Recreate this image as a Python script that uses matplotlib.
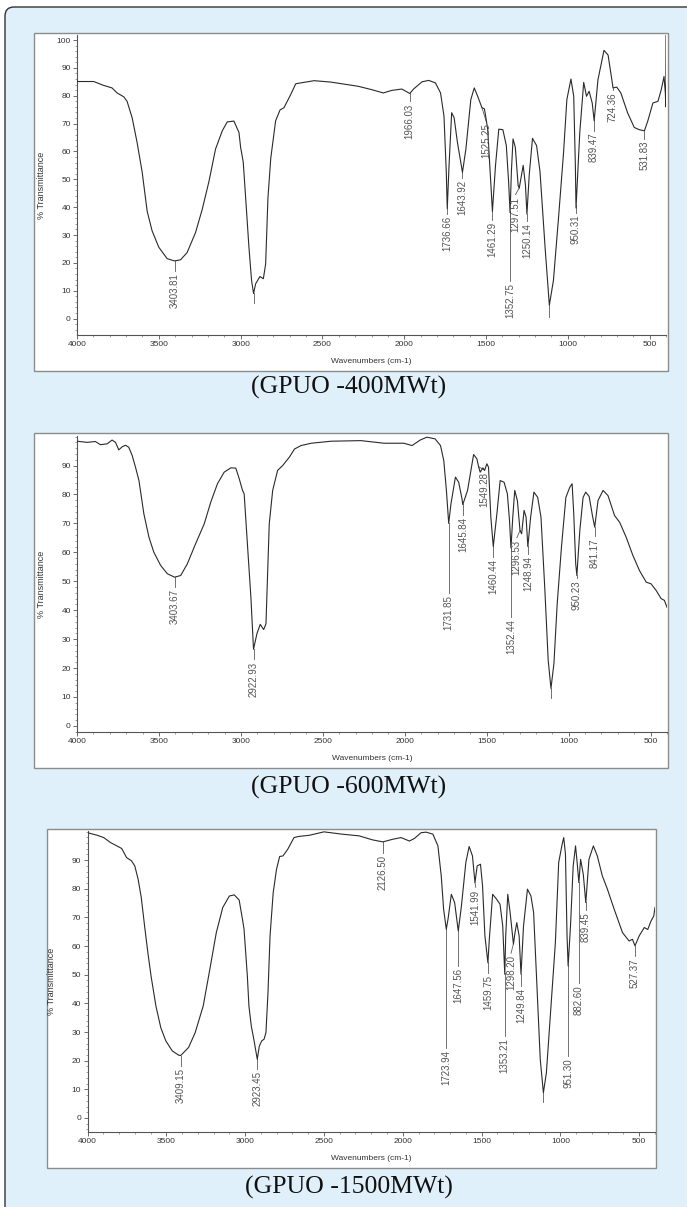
import matplotlib
matplotlib.use('Agg')
import matplotlib.pyplot as plt
import numpy as np
from matplotlib.patches import FancyBboxPatch, Rectangle
from matplotlib.transforms import IdentityTransform
from matplotlib.ticker import MultipleLocator, FixedLocator

W, H = 687, 1207

# ---- GPUO -400MWt ----
wn_400 = [4000, 3898, 3837, 3786, 3755, 3714, 3694, 3663, 3633, 3602,
          3571, 3541, 3500, 3449, 3404, 3367, 3327, 3276, 3235, 3194,
          3153, 3112, 3082, 3041, 3010, 3000, 2984, 2969, 2949, 2933,
          2921, 2908, 2882, 2861, 2847, 2833, 2816, 2786, 2759, 2735,
          2694, 2663, 2612, 2551, 2449, 2282, 2200, 2128, 2077, 2015,
          1966, 1943, 1891, 1850, 1809, 1778, 1757, 1743, 1737, 1726,
          1710, 1695, 1675, 1644, 1623, 1593, 1572, 1551, 1525, 1510,
          1504, 1490, 1469, 1461, 1442, 1422, 1397, 1376, 1362, 1353,
          1345, 1335, 1321, 1304, 1297, 1273, 1259, 1250, 1236, 1216,
          1191, 1170, 1139, 1113, 1088, 1057, 1026, 1006, 981, 964,
          954, 950, 927, 903, 886, 870, 851, 839, 816, 779,
          754, 734, 724, 701, 676, 635, 594, 563, 532, 511,
          480, 449, 429, 412, 404, 401, 400]
t_400 = [85.1, 85.1, 83.7, 82.8, 81.0, 79.6, 78.0, 72.1, 63.3, 52.7,
         38.5, 31.5, 25.6, 21.5, 20.7, 21.1, 23.7, 30.8, 39.1, 49.1,
         60.9, 67.4, 70.6, 70.9, 66.8, 61.5, 56.2, 43.2, 25.5, 13.7,
         9.0, 12.5, 15.1, 14.3, 19.6, 43.2, 57.4, 71.0, 74.9, 75.7,
         80.4, 84.3, 84.8, 85.4, 84.9, 83.4, 82.2, 81.0, 81.9, 82.4,
         80.8, 82.4, 85.0, 85.5, 84.6, 81.0, 72.7, 52.7, 39.5, 55.0,
         73.9, 72.1, 63.3, 52.5, 60.9, 78.6, 82.8, 79.8, 75.7, 75.3,
         73.3, 68.0, 46.8, 38.5, 55.0, 68.0, 67.8, 62.1, 49.1, 38.0,
         52.7, 64.5, 61.5, 47.9, 46.8, 55.0, 47.9, 37.5, 51.5, 64.7,
         62.1, 52.7, 25.5, 4.8, 13.7, 36.1, 59.7, 78.6, 86.0, 79.8,
         55.0, 39.7, 66.8, 84.8, 79.8, 81.6, 77.4, 71.0, 85.7, 96.3,
         94.6, 86.9, 82.8, 83.1, 81.0, 73.9, 68.6, 67.8, 67.4, 71.0,
         77.4, 78.0, 82.2, 86.9, 81.0, 76.0, 101.8]
peaks_400 = [3403.81, 1966.03, 1736.66, 1643.92, 1525.25, 1461.29, 1352.75,
             1297.51, 1250.14, 950.31, 839.47, 724.36, 531.83]
bare_400 = [2921, 1113]

# ---- GPUO -600MWt ----
wn_600 = [4000, 3939, 3888, 3857, 3816, 3786, 3765, 3745, 3724, 3704,
          3684, 3663, 3643, 3622, 3592, 3561, 3531, 3490, 3449, 3404,
          3367, 3327, 3276, 3224, 3184, 3143, 3102, 3061, 3031, 3010,
          2990, 2980, 2959, 2939, 2923, 2902, 2882, 2861, 2847, 2827,
          2806, 2776, 2745, 2704, 2673, 2633, 2571, 2449, 2267, 2127,
          2006, 1956, 1906, 1865, 1815, 1782, 1762, 1746, 1732, 1718,
          1691, 1671, 1651, 1646, 1617, 1580, 1560, 1549, 1540, 1523,
          1513, 1499, 1489, 1475, 1460, 1438, 1418, 1394, 1374, 1361,
          1352, 1341, 1329, 1313, 1297, 1287, 1272, 1260, 1249, 1232,
          1212, 1189, 1169, 1145, 1125, 1108, 1090, 1070, 1044, 1017,
          993, 979, 969, 957, 950, 932, 912, 896, 875, 855,
          841, 821, 790, 760, 720, 689, 649, 608, 568, 527,
          497, 466, 436, 416, 400]
t_600 = [98.4, 98.0, 98.3, 97.2, 97.5, 98.8, 98.0, 95.4, 96.5, 97.0,
         96.3, 93.4, 89.4, 84.8, 73.3, 65.2, 60.0, 55.5, 52.6, 51.4,
         52.0, 56.0, 63.0, 69.8, 77.3, 83.7, 87.7, 89.2, 89.1, 85.4,
         81.4, 80.2, 61.8, 44.5, 26.5, 31.9, 35.1, 33.3, 35.3, 69.8,
         81.4, 88.3, 90.0, 92.9, 95.7, 96.9, 97.7, 98.4, 98.6, 97.7,
         97.7, 96.9, 98.8, 99.8, 99.2, 96.9, 91.7, 81.4, 70.0, 76.8,
         86.0, 84.2, 78.5, 76.5, 81.4, 93.8, 92.3, 89.5, 87.7, 89.2,
         88.3, 90.6, 89.4, 72.2, 62.0, 73.3, 84.8, 84.2, 80.2, 71.0,
         61.5, 72.2, 81.4, 77.9, 67.6, 66.4, 74.5, 72.2, 62.0, 72.2,
         80.8, 79.0, 72.2, 46.8, 22.7, 13.0, 21.5, 42.2, 61.8, 79.0,
         82.5, 83.7, 73.3, 56.0, 52.0, 67.5, 79.0, 80.8, 79.3, 72.7,
         68.7, 77.9, 81.4, 79.6, 72.7, 70.4, 65.2, 58.9, 53.7, 49.7,
         49.1, 46.8, 44.0, 43.4, 41.0]
peaks_600 = [3403.67, 2922.93, 1731.85, 1645.84, 1549.28, 1460.44, 1352.44,
             1296.53, 1248.94, 950.23, 841.17]
bare_600 = [1108]

# ---- GPUO -1500MWt ----
wn_1500 = [4000, 3938, 3897, 3855, 3814, 3783, 3752, 3721, 3700, 3679,
           3659, 3638, 3617, 3597, 3566, 3535, 3503, 3462, 3421, 3409,
           3359, 3317, 3266, 3224, 3183, 3142, 3100, 3069, 3038, 3017,
           3007, 2986, 2976, 2961, 2945, 2923, 2910, 2895, 2880, 2868,
           2855, 2842, 2822, 2801, 2781, 2760, 2730, 2690, 2660, 2593,
           2500, 2386, 2277, 2192, 2126, 2065, 2011, 1958, 1926, 1884,
           1852, 1809, 1777, 1756, 1741, 1724, 1713, 1692, 1671, 1648,
           1628, 1600, 1579, 1558, 1542, 1528, 1507, 1494, 1479, 1460,
           1451, 1430, 1405, 1383, 1366, 1353, 1347, 1334, 1319, 1298,
           1288, 1277, 1262, 1250, 1234, 1209, 1187, 1170, 1149, 1128,
           1108, 1089, 1060, 1032, 1011, 989, 979, 968, 958, 951,
           936, 919, 904, 894, 883, 872, 855, 839, 819, 791,
           766, 734, 702, 659, 606, 564, 543, 527, 500, 468,
           446, 425, 408, 400]
t_1500 = [99.6, 98.7, 97.9, 96.2, 95.0, 94.1, 90.9, 89.8, 88.0, 83.4,
          77.0, 67.1, 57.7, 49.6, 39.1, 31.5, 26.9, 23.4, 21.9, 21.8,
          24.6, 29.8, 39.1, 51.9, 64.7, 73.5, 77.5, 77.9, 76.1, 69.4,
          65.9, 49.6, 39.1, 32.1, 27.5, 20.5, 25.1, 26.9, 27.5, 29.8,
          43.8, 63.6, 78.7, 86.8, 91.3, 91.5, 93.8, 97.9, 98.3, 98.7,
          99.9, 99.1, 98.5, 97.1, 96.4, 97.3, 97.9, 96.7, 97.6, 99.6,
          99.8, 99.1, 95.0, 84.5, 72.9, 65.9, 69.4, 78.1, 75.2, 65.3,
          74.0, 89.2, 94.8, 91.5, 82.2, 88.0, 88.6, 81.0, 63.6, 54.2,
          62.4, 78.1, 76.4, 74.6, 67.1, 50.2, 63.6, 78.1, 71.7, 60.7,
          64.7, 68.2, 63.6, 50.2, 67.1, 79.9, 77.5, 71.7, 46.1, 20.5,
          8.8, 15.8, 39.1, 61.2, 89.2, 95.6, 97.9, 92.1, 63.6, 53.1,
          67.1, 88.0, 95.0, 89.2, 82.2, 90.3, 85.1, 75.2, 90.3, 95.0,
          91.5, 84.5, 79.9, 72.9, 64.7, 61.8, 62.4, 60.1, 63.6, 66.5,
          65.8, 68.8, 70.5, 73.5]
peaks_1500 = [3409.15, 2923.45, 2126.50, 1723.94, 1647.56, 1541.99, 1459.75,
              1353.21, 1298.20, 1249.84, 951.30, 882.60, 839.45, 527.37]
bare_1500 = [1108]

# label layout: where each marker line ends and sideways shift of the label
tips_400 = [17.0, 78.0, 37.5, 50.5, 71.0, 35.5, 13.5, 44.5, 35.0, 38.0, 67.5, 82.0, 64.5]
dx_400 = [0, 0, 0, 0, -25, 0, 0, 22, 0, 0, 0, 0, 0]
bare_tips_400 = [5.5, 0.5]
tips_600 = [48.0, 23.0, 46.0, 73.0, 88.5, 58.5, 37.5, 65.0, 59.5, 51.0, 65.5]
dx_600 = [0, 0, 0, 0, -34, 0, 0, 20, 0, 0, 0]
bare_tips_600 = [9.5]
tips_1500 = [18.0, 17.0, 92.5, 24.5, 53.0, 80.5, 50.5, 28.5, 57.5, 46.0, 21.5, 47.0, 72.5, 56.5]
dx_1500 = [0, 0, 0, 0, 0, -5, 0, 0, 15, 0, 0, 0, 0, 0]
bare_tips_1500 = [5.5]

small_font = ['Liberation Sans Narrow', 'Liberation Sans', 'DejaVu Sans']


def draw_panel(ax, wn, t, peaks, tips, shifts, bare, bare_tips, ylim, yticks):
    wn = np.array(wn, dtype=float)
    t = np.array(t, dtype=float)
    ax.plot(wn, t, color='#2a2a2a', lw=0.8, zorder=3)
    for p, tip, dx in zip(peaks, tips, shifts):
        y0 = np.interp(p, wn[::-1], t[::-1])
        ax.plot([p, p + dx], [y0, tip], color='#5a5a5a', lw=0.6, zorder=2)
        ax.annotate('%.2f' % p, (p + dx, tip), xytext=(0, -1.5),
                    textcoords='offset points', rotation=90, ha='center',
                    va='top', fontsize=7, color='#555555', family=small_font[1:])
    for p, tip in zip(bare, bare_tips):
        y0 = np.interp(p, wn[::-1], t[::-1])
        ax.plot([p, p], [y0, tip], color='#5a5a5a', lw=0.6, zorder=2)

    ax.set_xlim(4000, 400)
    ax.set_ylim(*ylim)
    ax.xaxis.set_major_locator(FixedLocator(list(range(4000, 499, -500))))
    ax.xaxis.set_minor_locator(MultipleLocator(100))
    ax.yaxis.set_major_locator(FixedLocator(yticks))
    ax.yaxis.set_minor_locator(MultipleLocator(2))
    for s in ['top', 'right']:
        ax.spines[s].set_visible(False)
    for s in ['left', 'bottom']:
        ax.spines[s].set_color('#555555')
        ax.spines[s].set_linewidth(0.8)
    ax.tick_params(which='major', length=3, width=0.6, color='#555555',
                   labelsize=6, pad=1.5, labelcolor='#333333')
    ax.tick_params(which='minor', length=1.5, width=0.5, color='#777777')
    for lab in ax.get_xticklabels() + ax.get_yticklabels():
        lab.set_family(small_font)
    ax.set_xlabel('Wavenumbers (cm-1)', fontsize=6, color='#333333', family=small_font)
    ax.set_ylabel('% Transmittance', fontsize=6.5, color='#333333', family=small_font)
    ax.set_facecolor('none')


fig = plt.figure(figsize=(W / 100, H / 100), dpi=100)
fig.patch.set_facecolor('white')

# outer rounded panel
bg = FancyBboxPatch((5, -20), W + 20, H - 7 + 20,
                    boxstyle='round,pad=0,rounding_size=9',
                    facecolor='#dff0fa', edgecolor='#333333', lw=1.0,
                    transform=IdentityTransform(), zorder=-5)
fig.add_artist(bg)

# white frames (x0, y0, x1, y1 in pixels from top-left)
frames = [(34, 33, 668, 371), (34, 433, 668, 768), (47, 829, 656, 1168)]
for x0, y0, x1, y1 in frames:
    fig.add_artist(Rectangle((x0, H - y1), x1 - x0, y1 - y0, facecolor='white',
                             edgecolor='#8c8c8c', lw=1.0,
                             transform=IdentityTransform(), zorder=-4))

# axes boxes (left, top, right, bottom in pixels)
boxes = [(77, 35, 666, 335), (77, 436, 667, 732), (87.5, 831, 655, 1132)]
axes = []
for l, tp, r, b in boxes:
    axes.append(fig.add_axes([l / W, 1 - b / H, (r - l) / W, (b - tp) / H]))

draw_panel(axes[0], wn_400, t_400, peaks_400, tips_400, dx_400, bare_400,
           bare_tips_400, (-5.9, 101.8), list(range(0, 101, 10)))
draw_panel(axes[1], wn_600, t_600, peaks_600, tips_600, dx_600, bare_600,
           bare_tips_600, (-2.1, 100.2), list(range(0, 91, 10)))
draw_panel(axes[2], wn_1500, t_1500, peaks_1500, tips_1500, dx_1500, bare_1500,
           bare_tips_1500, (-4.9, 100.2), list(range(0, 91, 10)))

for ax, (l, tp, r, b) in zip(axes, boxes):
    ax.yaxis.set_label_coords(-31 / (r - l), 0.5)
    ax.xaxis.set_label_coords(0.5, -23 / (b - tp))

captions = ['(GPUO -400MWt)', '(GPUO -600MWt)', '(GPUO -1500MWt)']
for cap, yc in zip(captions, [387, 787, 1187]):
    fig.text(349 / W, 1 - yc / H, cap, ha='center', va='center',
             fontsize=18.5, family='Liberation Serif', color='#111111')

fig.savefig('out.png', dpi=100, facecolor=fig.get_facecolor())
